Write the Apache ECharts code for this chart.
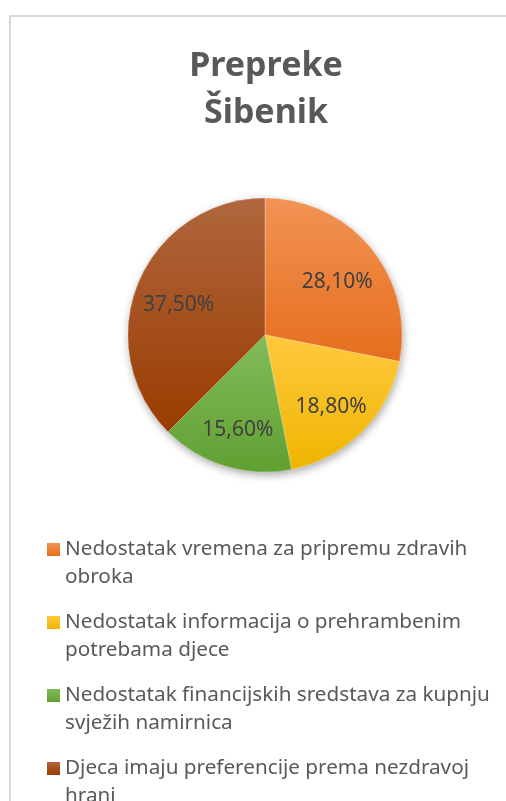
<!DOCTYPE html>
<html>
<head>
<meta charset="utf-8">
<title>Prepreke Šibenik</title>
<script src="https://cdn.jsdelivr.net/npm/echarts@6/dist/echarts.min.js"></script>
<style>
    html, body { margin: 0; padding: 0; background: #fff; }
    #main { width: 506px; height: 801px; }
</style>
</head>
<body>
<div id="main"></div>
<script>
// podaci
var titleText = 'Prepreke\nŠibenik';
var categories = [
    'Nedostatak vremena za pripremu zdravih obroka',
    'Nedostatak informacija o prehrambenim potrebama djece',
    'Nedostatak financijskih sredstava za kupnju svježih namirnica',
    'Djeca imaju preferencije prema nezdravoj hrani'
];
var values = [28.1, 18.8, 15.6, 37.5];

// boje (gornji i donji ton gradijenta)
var colorsTop = ['#f29355', '#ffc93e', '#82bc5a', '#b0663e'];
var colorsBottom = ['#e66e1c', '#efb500', '#60a032', '#9a3c00'];

var font = 'Noto Sans';

function grad(i) {
    return new echarts.graphic.LinearGradient(0, 0, 0, 1, [
        {offset: 0, color: colorsTop[i]},
        {offset: 1, color: colorsBottom[i]}
    ]);
}

var colorData = categories.map(function (name, i) {
    return {name: name, value: values[i], itemStyle: {color: grad(i)}};
});
var plainData = categories.map(function (name, i) {
    return {name: name, value: values[i]};
});

var myChart = echarts.init(document.getElementById('main'));

myChart.setOption({
    animation: false,
    title: {
        text: titleText,
        left: 261,
        top: 38,
        textAlign: 'center',
        textStyle: {
            fontFamily: font,
            fontSize: 34,
            fontWeight: 'bold',
            color: '#595959',
            lineHeight: 47
        }
    },
    legend: {
        orient: 'vertical',
        left: 47,
        top: 507.5,
        height: 400,
        padding: 0,
        icon: 'rect',
        itemWidth: 13,
        itemHeight: 13,
        itemGap: -11,
        data: categories,
        // prazan prvi red -> ikona stoji uz prvi red teksta
        formatter: function (name) {
            return ' \n' + name;
        },
        textStyle: {
            fontFamily: font,
            fontSize: 20.7,
            color: '#595959',
            lineHeight: 28,
            width: 436,
            overflow: 'break'
        }
    },
    graphic: [{
        type: 'rect',
        silent: true,
        z: -10,
        shape: {x: 10, y: 16, width: 700, height: 1000},
        style: {fill: 'none', stroke: '#d9d9d9', lineWidth: 2}
    }],
    series: [
        {   // sjena ispod kruga
            type: 'pie',
            silent: true,
            center: [265, 335],
            radius: [0, 137],
            startAngle: 90,
            data: colorData,
            label: {show: false},
            labelLine: {show: false},
            itemStyle: {
                shadowBlur: 8,
                shadowOffsetX: 1,
                shadowOffsetY: 3,
                shadowColor: 'rgba(0,0,0,0.35)'
            }
        },
        {
            type: 'pie',
            silent: true,
            center: [265, 335],
            radius: [0, 137],
            startAngle: 90,
            data: colorData,
            label: {show: false},
            labelLine: {show: false},
            itemStyle: {borderColor: 'rgba(255,255,255,0.35)', borderWidth: 0.8}
        },
        {   // samo oznake postotaka (malo nize, kao u Excelu)
            type: 'pie',
            silent: true,
            center: [265, 341],
            radius: [44, 137],
            startAngle: 90,
            data: plainData,
            itemStyle: {color: 'rgba(0,0,0,0)'},
            labelLine: {show: false},
            label: {
                show: true,
                position: 'inside',
                fontFamily: font,
                fontSize: 21,
                color: '#404040',
                formatter: function (p) {
                    return p.value.toFixed(2).replace('.', ',') + '%';
                }
            }
        }
    ]
});
</script>
</body>
</html>
